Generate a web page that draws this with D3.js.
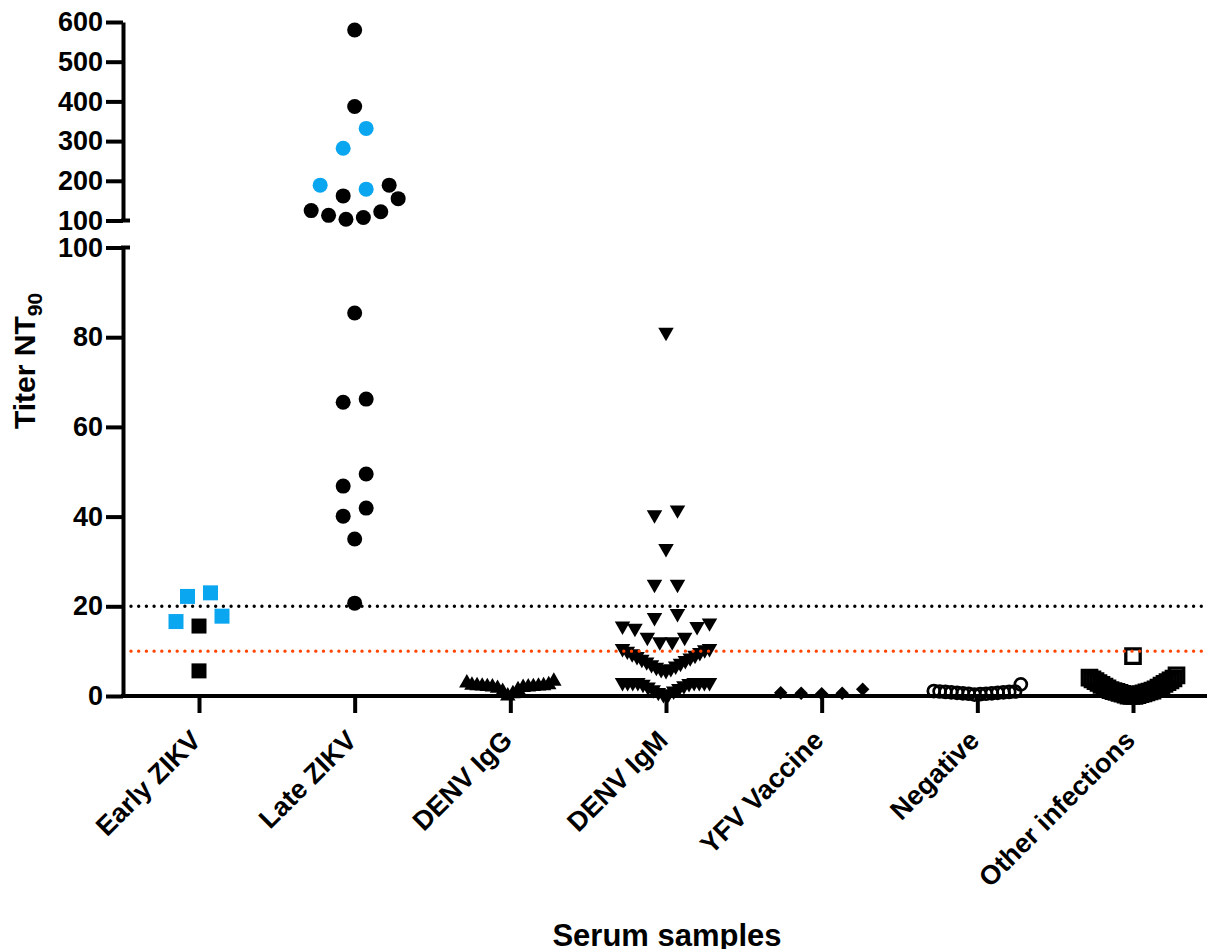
<!DOCTYPE html>
<html><head><meta charset="utf-8">
<script src="https://cdn.jsdelivr.net/npm/d3@7"></script>
<style>body{margin:0;background:#fff}svg{display:block}</style>
</head><body>
<svg id="chart" width="1207" height="949"></svg>
<script>
// ---------- data ----------
const categories = ["Early ZIKV","Late ZIKV","DENV IgG","DENV IgM","YFV Vaccine","Negative","Other infections"];
const earlyZikvBlue  = [16.6, 17.8, 22.2, 23.0];
const earlyZikvBlack = [5.6, 15.6];
const lateZikvBlue   = [179, 189, 282, 332];
const lateZikvBlack  = [20.7, 35.0, 40.1, 41.9, 46.8, 49.5, 65.5, 66.2, 85.4, 103, 107.5, 113, 122, 125, 155, 162, 189, 387, 580];
const denvIgG  = [0.0, 0.5, 1.0, 1.4, 1.7, 1.9, 2.0, 2.0, 2.1, 2.1, 2.2, 2.2, 2.3, 2.3, 2.4, 2.5, 2.9, 3.3];
const denvIgM  = [0.3, 0.5, 0.8, 1.1, 1.4, 1.7, 2.0, 2.3, 2.6, 2.8, 3.0, 3.0, 3.0, 3.0, 3.0, 3.0, 3.0, 3.0,
                  5.7, 5.9, 6.1, 6.4, 6.7, 7.0, 7.3, 7.6, 7.9, 8.2, 8.5, 8.8, 9.1, 9.4, 9.7, 10.0, 10.3, 10.6, 10.6,
                  12.1, 12.1, 13.1, 13.1, 15.1, 15.5, 15.6, 16.3, 17.5, 18.4, 24.9, 24.9, 32.9, 40.4, 41.5, 81.1];
const yfvVaccine = [0.5, 0.6, 0.6, 0.7, 1.5];
const negative   = [0.3, 0.4, 0.5, 0.5, 0.6, 0.6, 0.7, 0.7, 0.8, 0.8, 0.9, 0.9, 1.0, 1.0, 1.1, 2.6];
const otherInfections = [0.0, 0.0, 0.1, 0.2, 0.3, 0.4, 0.5, 0.6, 0.7, 0.8, 0.9, 1.0, 1.1, 1.2, 1.3, 1.5, 1.7,
                  1.9, 2.1, 2.3, 2.5, 2.7, 2.9, 3.1, 3.3, 3.5, 3.7, 3.9, 4.1, 4.6, 8.9];
const lowerTicks = [0, 20, 40, 60, 80, 100];
const upperTicks = [100, 200, 300, 400, 500, 600];
const thresholdBlack = 20;
const thresholdOrange = 10;

// ---------- setup ----------
const BLUE = "#0ba6f0", ORANGE = "#ff4500";
const FONT = "Arial, 'Liberation Sans', sans-serif";
const svg = d3.select("#chart");
const x = d3.scalePoint().domain(categories).range([199, 1133]);
const yLow  = d3.scaleLinear().domain([0, 100]).range([696, 247.5]);
const yHigh = d3.scaleLinear().domain([100, 600]).range([220.5, 22]);
const yPos = v => v <= 100 ? yLow(v) : yHigh(v);

// GraphPad-like row scatter layout
function swarm(points, baseSpacing, rowH = 22, halfW = 43.5) {
  const pts = points.slice().sort((a, b) => a.v - b.v);
  const out = [];
  let i = 0;
  while (i < pts.length) {
    const y0 = yPos(pts[i].v);
    let j = i + 1;
    while (j < pts.length && y0 - yPos(pts[j].v) < rowH) j++;
    const row = pts.slice(i, j), n = row.length;
    const sp = n > 1 ? Math.min(baseSpacing, 2 * halfW / (n - 1)) : 0;
    const slots = [];
    if (n % 2 === 1) { slots.push(0); for (let k = 1; k <= (n - 1) / 2; k++) { slots.push(-k); slots.push(k); } }
    else { for (let k = 0; k < n / 2; k++) { slots.push(-(k + 0.5)); slots.push(k + 0.5); } }
    row.forEach((p, idx) => out.push(Object.assign({}, p, { dx: slots[idx] * sp })));
    i = j;
  }
  return out;
}
const mk = (vals, color) => vals.map(v => ({ v, color }));

const groups = [
  { cat: "Early ZIKV", pts: mk(earlyZikvBlue, BLUE).concat(mk(earlyZikvBlack, "#000")), type: d3.symbolSquare, size: 225, rot: 0, open: false, sp: 23 },
  { cat: "Late ZIKV", pts: mk(lateZikvBlue, BLUE).concat(mk(lateZikvBlack, "#000")), type: d3.symbolCircle, size: 177, rot: 0, open: false, sp: 23 },
  { cat: "DENV IgG", pts: mk(denvIgG, "#000"), type: d3.symbolTriangle, size: 104, rot: 0, open: false, sp: 23 },
  { cat: "DENV IgM", pts: mk(denvIgM, "#000"), type: d3.symbolTriangle, size: 104, rot: 180, open: false, sp: 23 },
  { cat: "YFV Vaccine", pts: mk(yfvVaccine, "#000"), type: d3.symbolSquare, size: 91, rot: 45, open: false, sp: 20.5 },
  { cat: "Negative", pts: mk(negative, "#000"), type: d3.symbolCircle, size: 113, rot: 0, open: true, sw: 2.7, sp: 23 },
  { cat: "Other infections", pts: mk(otherInfections, "#000"), type: d3.symbolSquare, size: 207, rot: 0, open: true, sw: 3.3, sp: 23 }
];

// ---------- points ----------
const gPts = svg.append("g");
groups.forEach(g => {
  const laid = swarm(g.pts, g.sp);
  const sym = d3.symbol().type(g.type).size(g.size);
  gPts.append("g").selectAll("path").data(laid).join("path")
    .attr("d", sym)
    .attr("transform", d => `translate(${x(g.cat) + d.dx},${yPos(d.v)}) rotate(${g.rot})`)
    .attr("fill", d => g.open ? "none" : d.color)
    .attr("stroke", d => g.open ? d.color : "none")
    .attr("stroke-width", g.open ? g.sw : 0);
});

// ---------- threshold lines ----------
[[thresholdBlack, "#000"], [thresholdOrange, ORANGE]].forEach(([v, c]) => {
  svg.append("line").attr("x1", 131).attr("x2", 1207)
    .attr("y1", yLow(v)).attr("y2", yLow(v))
    .attr("stroke", c).attr("stroke-width", 3.4)
    .attr("stroke-linecap", "round").attr("stroke-dasharray", "0,7.7");
});

// ---------- axes ----------
const AX = 123;
function styleAxis(g) {
  g.selectAll("path.domain").attr("stroke", "#000").attr("stroke-width", 4);
  g.selectAll(".tick line").attr("stroke", "#000").attr("stroke-width", 4);
  g.selectAll(".tick text").attr("fill", "#000").style("font-family", FONT);
}
const axLow = svg.append("g").attr("transform", `translate(${AX},0)`)
  .call(d3.axisLeft(yLow).tickValues(lowerTicks).tickSize(17).tickSizeOuter(0).tickPadding(3));
const axHigh = svg.append("g").attr("transform", `translate(${AX},0)`)
  .call(d3.axisLeft(yHigh).tickValues(upperTicks).tickSize(17).tickSizeOuter(0).tickPadding(3));
[axLow, axHigh].forEach(a => {
  styleAxis(a);
  a.selectAll(".tick text").style("font-size", "27px").style("font-weight", "bold");
});
// break caps
[yLow(100), yHigh(100)].forEach(yy => {
  svg.append("line").attr("x1", AX - 2).attr("x2", AX + 7).attr("y1", yy).attr("y2", yy)
    .attr("stroke", "#000").attr("stroke-width", 4);
});

// x axis
const axX = svg.append("g").attr("transform", `translate(0,${yLow(0)})`)
  .call(d3.axisBottom(x).tickSize(17).tickSizeOuter(0));
axX.select("path.domain").remove();
styleAxis(axX);
svg.append("line").attr("x1", AX - 2).attr("x2", 1207).attr("y1", yLow(0)).attr("y2", yLow(0))
  .attr("stroke", "#000").attr("stroke-width", 4);
axX.selectAll(".tick text")
  .attr("text-anchor", "end")
  .attr("x", 0).attr("y", 0).attr("dy", 0)
  .attr("transform", "translate(3,46) rotate(-45)")
  .style("font-size", "27px").style("font-weight", "bold");

// titles
const yt = svg.append("text").attr("transform", "translate(35,361) rotate(-90)")
  .attr("text-anchor", "middle").style("font-family", FONT).style("font-weight", "bold")
  .style("font-size", "30px").attr("fill", "#000");
yt.append("tspan").text("Titer NT");
yt.append("tspan").text("90").style("font-size", "21px").attr("dy", 7);

svg.append("text").attr("x", 667).attr("y", 946).attr("text-anchor", "middle")
  .style("font-family", FONT).style("font-weight", "bold").style("font-size", "31px")
  .attr("fill", "#000").text("Serum samples");
</script>
</body></html>
